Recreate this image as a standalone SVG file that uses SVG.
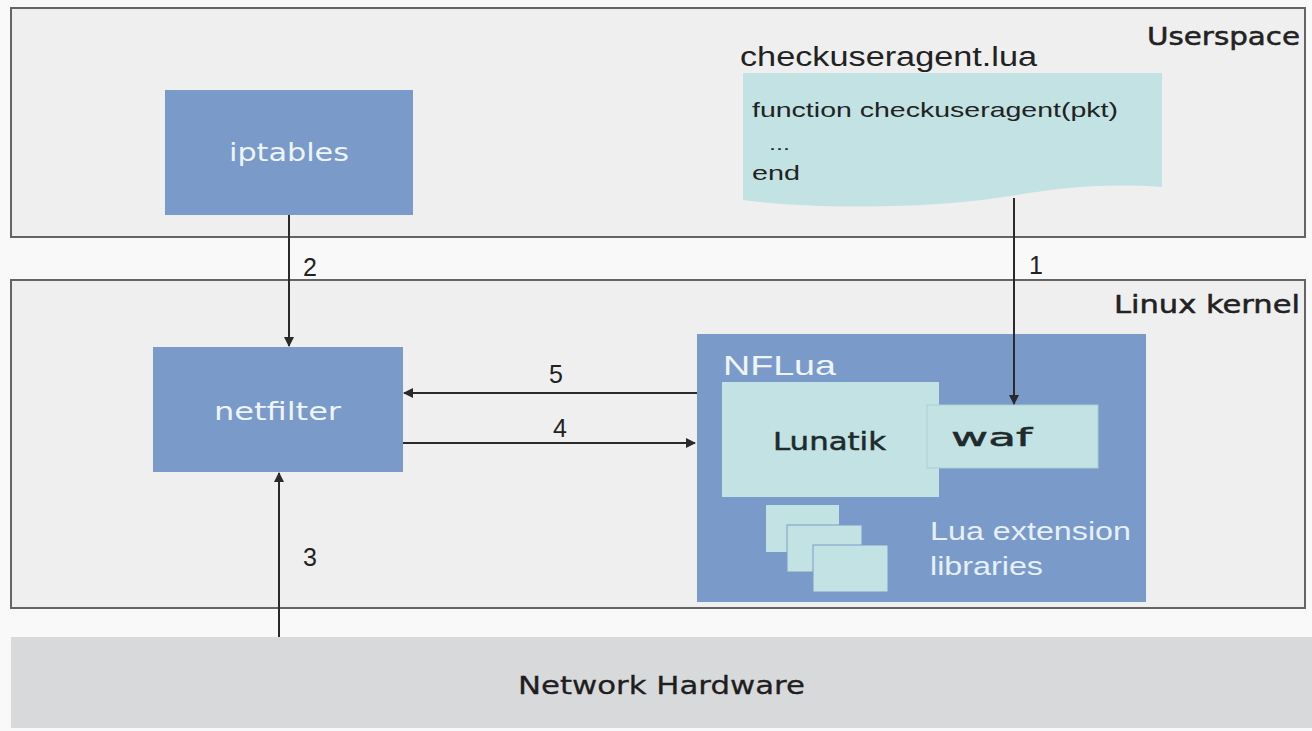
<svg xmlns="http://www.w3.org/2000/svg" width="1312" height="731" viewBox="0 0 1312 731">
<style>
.layer{fill:#efefef;stroke:#646464;stroke-width:2}
.blue{fill:#7a9bc9}
.teal{fill:#c3e2e3}
.wt{font-family:"DejaVu Sans",Verdana,sans-serif;fill:#eef4f8;font-size:24px}
.dk{font-family:"DejaVu Sans",Verdana,sans-serif;fill:#1e2a2c;font-size:25px;stroke:#1e2a2c;stroke-width:0.5}
.hd{font-family:"DejaVu Sans",Verdana,sans-serif;fill:#222;font-size:25px;stroke:#222;stroke-width:0.5}
.hv{font-family:"Liberation Sans",Arial,sans-serif;fill:#222}
.lbl{font-family:"Liberation Sans",Arial,sans-serif;fill:#222;font-size:25px}
.ln{stroke:#2a2a2a;stroke-width:2;fill:none}
</style>
<defs>
<marker id="ah" viewBox="0 0 10 10" refX="9" refY="5" markerWidth="5" markerHeight="5" orient="auto-start-reverse">
<path d="M0,0 L10,5 L0,10 z" fill="#2a2a2a"/>
</marker>
</defs>
<rect x="0" y="0" width="1312" height="731" fill="#f9f9f9"/>
<g id="userspace">
<rect class="layer" x="11" y="8" width="1294" height="229"/>
<text class="hd" x="1147" y="45" textLength="153" lengthAdjust="spacingAndGlyphs">Userspace</text>
</g>
<g id="kernel">
<rect class="layer" x="11" y="280" width="1294" height="328"/>
<text class="hd" x="1114" y="313" textLength="186" lengthAdjust="spacingAndGlyphs">Linux kernel</text>
</g>
<g id="hardware">
<rect x="11" y="637" width="1301" height="91" fill="#d8d9db"/>
<text x="518" y="694" font-family="'DejaVu Sans',sans-serif" font-size="25" fill="#1e1e1e" stroke="#1e1e1e" stroke-width="0.3" textLength="287" lengthAdjust="spacingAndGlyphs">Network Hardware</text>
</g>
<g id="iptables">
<rect class="blue" x="165" y="90" width="248" height="125"/>
<text class="wt" x="229" y="161" textLength="120" lengthAdjust="spacingAndGlyphs">iptables</text>
</g>
<g id="script">
<text class="hv" x="740" y="66" font-size="27" textLength="297" lengthAdjust="spacingAndGlyphs">checkuseragent.lua</text>
<path class="teal" d="M743,73 H1162 V187 C1100,183 1060,188 1010,196 C960,204 900,208 820,206 C790,205 765,203 743,200 Z"/>
<text class="hv" x="752" y="117" font-size="21" fill="#2a3a3c" textLength="366" lengthAdjust="spacingAndGlyphs">function checkuseragent(pkt)</text>
<text class="hv" x="769" y="150" font-size="17" fill="#2a3a3c" textLength="21" lengthAdjust="spacingAndGlyphs">...</text>
<text class="hv" x="752" y="180" font-size="21" fill="#2a3a3c" textLength="48" lengthAdjust="spacingAndGlyphs">end</text>
</g>
<g id="netfilter">
<rect class="blue" x="153" y="347" width="250" height="125"/>
<text class="wt" x="214" y="420" textLength="127" lengthAdjust="spacingAndGlyphs">netfilter</text>
</g>
<g id="nflua">
<rect class="blue" x="697" y="334" width="449" height="268"/>
<text x="723" y="375" font-family="'Liberation Sans',Arial,sans-serif" font-size="28" fill="#eef4f8" textLength="113" lengthAdjust="spacingAndGlyphs">NFLua</text>
<text x="930" y="540" font-family="'Liberation Sans',Arial,sans-serif" font-size="26" fill="#e6f0f6" textLength="201" lengthAdjust="spacingAndGlyphs">Lua extension</text>
<text x="930" y="575" font-family="'Liberation Sans',Arial,sans-serif" font-size="26" fill="#e6f0f6" textLength="113" lengthAdjust="spacingAndGlyphs">libraries</text>
<rect class="teal" x="766" y="505" width="73" height="47"/>
<rect class="teal" x="787" y="525" width="75" height="47" stroke="#7a9bc9" stroke-width="1"/>
<rect class="teal" x="813" y="545" width="75" height="47" stroke="#7a9bc9" stroke-width="1"/>
</g>
<g id="lunatik">
<rect class="teal" x="722" y="382" width="217" height="115"/>
<text class="dk" x="773" y="450" textLength="113" lengthAdjust="spacingAndGlyphs">Lunatik</text>
</g>
<g id="waf">
<rect class="teal" x="927" y="405" width="171" height="63" stroke="#a9cfd3" stroke-width="1"/>
<text class="dk" x="951" y="446" textLength="81" lengthAdjust="spacingAndGlyphs">waf</text>
</g>
<g id="connectors">
<line class="ln" x1="1014" y1="198" x2="1014" y2="404" marker-end="url(#ah)"/>
<text class="lbl" x="1029" y="274">1</text>
<line class="ln" x1="289" y1="215" x2="289" y2="346" marker-end="url(#ah)"/>
<text class="lbl" x="303" y="276">2</text>
<line class="ln" x1="279" y1="637" x2="279" y2="473" marker-end="url(#ah)"/>
<text class="lbl" x="303" y="566">3</text>
<line class="ln" x1="697" y1="393" x2="404" y2="393" marker-end="url(#ah)"/>
<text class="lbl" x="549" y="383">5</text>
<line class="ln" x1="403" y1="443" x2="695" y2="443" marker-end="url(#ah)"/>
<text class="lbl" x="553" y="437">4</text>
</g>
</svg>
